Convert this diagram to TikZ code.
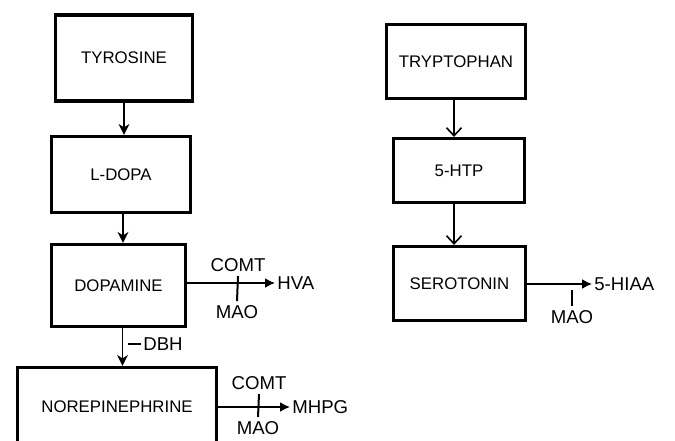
\documentclass[tikz,border=0pt]{standalone}
\usepackage{fontspec}
\setmainfont{Liberation Sans}
\usepackage{tikz}
\usetikzlibrary{arrows.meta,positioning,calc}

\begin{document}
\begin{tikzpicture}[
        x=0.5pt, y=-0.5pt,
        compound/.style={draw=black, line width=1.6pt, inner sep=0pt,
          font=\fontsize{8.4}{10}\selectfont},
        enzyme/.style={inner sep=1pt, font=\fontsize{9.3}{11}\selectfont},
        product/.style={inner sep=1pt, anchor=west, font=\fontsize{9.3}{11}\selectfont},
        conv/.style={line width=0.8pt, -{Stealth[length=5.5pt,width=5.5pt]}},
        convopen/.style={line width=0.8pt, -{Straight Barb[length=4pt,width=7.5pt]}},
        degr/.style={line width=0.8pt, -{Latex[length=5pt,width=5pt]}},
        tick/.style={line width=1pt}
      ]
        \clip (0,0) rectangle (675,440);

        % Catecholamine pathway
        \node[compound, minimum width=68.5pt, minimum height=43pt] (tyr) at (124, 58) {TYROSINE};
        \node[compound, minimum width=69.5pt, minimum height=38pt] (ldopa) at (121, 174.5) {L-DOPA};
        \node[compound, minimum width=67pt, minimum height=41pt] (dopa) at (118.5, 285.5) {DOPAMINE};
        \node[compound, minimum width=99.5pt, minimum height=39.5pt] (ne) at (117, 407) {NOREPINEPHRINE};
        \draw[conv] (tyr.south) -- (tyr.south |- ldopa.north);
        \draw[conv] ([xshift=1pt]ldopa.south) -- ([xshift=1pt]ldopa.south |- dopa.north);
        \draw[conv] ([xshift=2pt]dopa.south) -- ([xshift=2pt]dopa.south |- ne.north);
        \node[enzyme, anchor=west] (dbh) at (141, 344) {DBH};
        \draw[tick] (dbh.west) -- ++(-13, 0);

        % Breakdown of dopamine and norepinephrine
        \node[product] (hva) at (275, 283) {HVA};
        \draw[degr] (dopa.east |- hva.west) -- (hva.west);
        \node[enzyme] (comtA) at (238, 265) {COMT};
        \node[enzyme] (maoA) at (237, 312) {MAO};
        \draw[tick] ([yshift=-1pt]comtA.south) -- ([yshift=1pt]maoA.north);

        \node[product] (mhpg) at (290, 407) {MHPG};
        \draw[degr] (ne.east |- mhpg.west) -- (mhpg.west);
        \node[enzyme] (comtB) at (259, 383) {COMT};
        \node[enzyme] (maoB) at (258, 428) {MAO};
        \draw[tick] ([yshift=-1pt]comtB.south) -- ([yshift=1pt]maoB.north);

        % Serotonin pathway
        \node[compound, minimum width=69.5pt, minimum height=37pt] (trp) at (456, 61.5) {TRYPTOPHAN};
        \node[compound, minimum width=65.5pt, minimum height=32pt] (htp) at (459, 170.5) {5-HTP};
        \node[compound, minimum width=66pt, minimum height=37pt] (sero) at (459.5, 283.5) {SEROTONIN};
        \draw[convopen] ([xshift=-1pt]trp.south) -- ([xshift=-1pt]trp.south |- htp.north);
        \draw[convopen] ([xshift=-2.5pt]htp.south) -- ([xshift=-2.5pt]htp.south |- sero.north);

        \node[product] (hiaa) at (592, 284) {5-HIAA};
        \draw[degr] (sero.east |- hiaa.west) -- (hiaa.west);
        \node[enzyme] (maoC) at (572, 317) {MAO};
        \draw[tick] ([yshift=1pt]maoC.north) -- ++(0, -16);
      \end{tikzpicture}
\end{document}
